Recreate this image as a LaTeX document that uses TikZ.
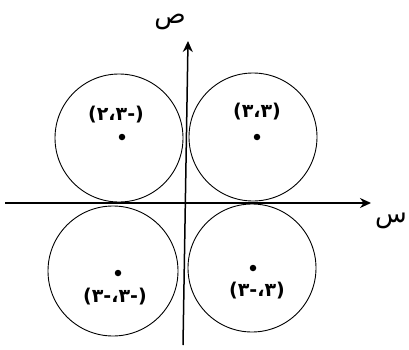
\documentclass[tikz,border=0pt]{standalone}
\usepackage{fontspec}
\usetikzlibrary{arrows.meta,positioning}
\newfontfamily\arabicfont[Script=Arabic]{DejaVu Sans}

\begin{document}
\begin{tikzpicture}[
  x=1pt, y=1pt, >={Stealth[length=11pt,width=10pt]},
  disc/.style={draw, circle, minimum size=128pt, inner sep=0pt, line width=0.9pt},
  centre/.style={fill, circle, inner sep=0pt, minimum size=6.5pt},
  pair/.style={font=\arabicfont\bfseries\fontsize{19}{19}\selectfont, inner sep=1pt},
  axislabel/.style={font=\arabicfont\fontsize{26}{26}\selectfont, inner sep=0pt},
  axis/.style={->, line width=1.5pt}
]
\useasboundingbox (0,0) rectangle (409,349);

% axes
\coordinate (xl) at (5,146);
\coordinate (xr) at (371,146);
\coordinate (yb) at (183,4);
\coordinate (yt) at (188,308);
\draw[axis] (xl) -- (xr);
\draw[axis] (yb) -- (yt);
\node[axislabel] (ylab) at (170,327) {ص};
\node[axislabel] (xlab) at (391,128) {س};

% circles and centres
\node[disc] (cTL) at (119,211) {};
\node[disc] (cTR) at (253,212) {};
\node[disc, minimum size=130pt] (cBL) at (113,78) {};
\node[disc] (cBR) at (252,81) {};

\node[centre] (dTL) at (122,212) {};
\node[centre] (dTR) at (257,212) {};
\node[centre] (dBL) at (118,76) {};
\node[centre] (dBR) at (253,81) {};

\node[pair, above=9pt of dTL, xshift=-6pt] (pTL) {(-٢،٣)};
\node[pair, above=12pt of dTR] (pTR) {(٣،٣)};
\node[pair, below=10pt of dBL, xshift=-3pt] (pBL) {(-٣،-٣)};
\node[pair, below=9pt of dBR, xshift=4pt] (pBR) {(٣،-٣)};
\end{tikzpicture}
\end{document}
